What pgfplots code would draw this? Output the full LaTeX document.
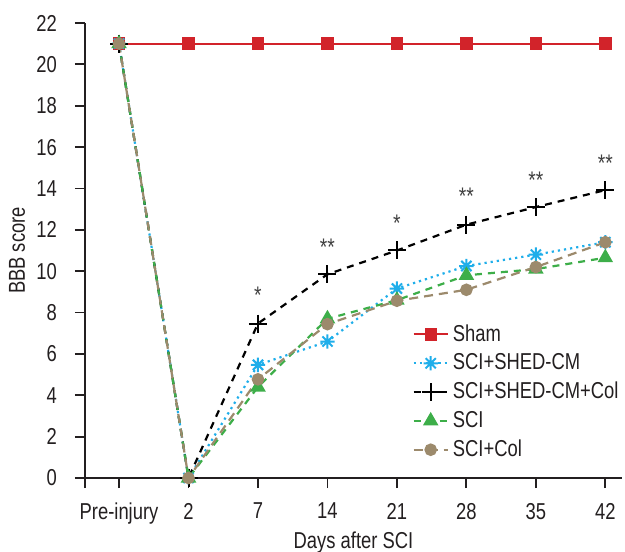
\documentclass[border=0pt]{standalone}
\usepackage{pgfplots}
\pgfplotsset{compat=1.18}
\usepackage{fontspec}
\setmainfont{Liberation Sans}[FakeStretch=0.8]
\definecolor{shamred}{HTML}{D2232A}
\definecolor{shedcyan}{HTML}{1FAEEA}
\definecolor{scigreen}{HTML}{3DAE49}
\definecolor{coltan}{HTML}{9C8A6C}
\definecolor{txt}{HTML}{231F20}
\pgfdeclareplotmark{ast8}{%
  \pgfpathmoveto{\pgfqpoint{0pt}{\pgfplotmarksize}}\pgfpathlineto{\pgfqpoint{0pt}{-\pgfplotmarksize}}%
  \pgfpathmoveto{\pgfqpoint{\pgfplotmarksize}{0pt}}\pgfpathlineto{\pgfqpoint{-\pgfplotmarksize}{0pt}}%
  \pgfpathmoveto{\pgfqpoint{0.707\pgfplotmarksize}{0.707\pgfplotmarksize}}\pgfpathlineto{\pgfqpoint{-0.707\pgfplotmarksize}{-0.707\pgfplotmarksize}}%
  \pgfpathmoveto{\pgfqpoint{-0.707\pgfplotmarksize}{0.707\pgfplotmarksize}}\pgfpathlineto{\pgfqpoint{0.707\pgfplotmarksize}{-0.707\pgfplotmarksize}}%
  \pgfusepathqstroke}
\begin{document}
\fontsize{11.5}{13.5}\selectfont
\begin{tikzpicture}
\begin{axis}[
  scale only axis,
  width=268.5pt, height=227.5pt,
  xmin=-0.49, xmax=7.24,
  ymin=0, ymax=22,
  axis lines=left,
  axis line style={-, line width=0.9pt, color=txt},
  xtick={-0.49,0,1,2,3,4,5,6,7},
  xticklabels={,Pre-injury,2,7,14,21,28,35,42},
  ytick={0,2,...,22},
  tick align=outside,
  major tick length=5pt,
  tick style={line width=0.9pt, color=txt},
  /pgf/number format/assume math mode=true,
  ticklabel style={font=\fontsize{11.5}{13.5}\selectfont, color=txt},
  xticklabel style={yshift=-3.5pt},
  yticklabel style={xshift=-5pt},
  xlabel={Days after SCI},
  ylabel={BBB score},
  label style={font=\fontsize{11.5}{13.5}\selectfont, color=txt},
  xlabel style={at={(axis description cs:0.5,0)}, anchor=base, yshift=-35pt},
  ylabel style={at={(axis description cs:-0.1266,0.5)}, anchor=center, rotate=0},
  clip=false,
  legend cell align=left,
  legend style={draw=none, fill=none, at={(0.598,0.356)}, anchor=north west,
    font=\fontsize{11.5}{13.5}\selectfont, text=txt, row sep=0.5pt,
    /tikz/every even column/.append style={column sep=1.5pt}},
]
\addplot[shamred, line width=1pt, mark=square*, mark size=2.6pt, mark options={solid}]
  coordinates {(0,21)(1,21)(2,21)(3,21)(4,21)(5,21)(6,21)(7,21)};
\addlegendentry{Sham}
\addplot[shedcyan, line width=1.1pt, dotted, mark=ast8, mark size=3.6pt, mark options={solid, line width=1pt}]
  coordinates {(0,21)(1,0)(2,5.47)(3,6.6)(4,9.16)(5,10.25)(6,10.8)(7,11.4)};
\addlegendentry{SCI+SHED-CM}
\addplot[black, line width=1.1pt, dash pattern=on 3.5pt off 3pt, mark=+, mark size=4.5pt, mark options={solid, line width=1pt}]
  coordinates {(0,21)(1,0)(2,7.47)(3,9.85)(4,11.0)(5,12.25)(6,13.1)(7,13.92)};
\addlegendentry{SCI+SHED-CM+Col}
\addplot[scigreen, line width=1.1pt, dash pattern=on 3.5pt off 3pt, mark=triangle*, mark size=3.4pt, mark options={solid}]
  coordinates {(0,21)(1,0)(2,4.4)(3,7.7)(4,8.6)(5,9.8)(6,10.1)(7,10.65)};
\addlegendentry{SCI}
\addplot[coltan, line width=1.1pt, dash pattern=on 4.5pt off 3pt, mark=*, mark size=2.6pt, mark options={solid}]
  coordinates {(0,21)(1,0)(2,4.77)(3,7.44)(4,8.57)(5,9.1)(6,10.2)(7,11.4)};
\addlegendentry{SCI+Col}
\addplot[draw=none, mark=none, nodes near coords, point meta=explicit symbolic,
  every node near coord/.append style={anchor=center, color=black!75, font=\fontsize{12}{14}\selectfont}]
  coordinates {(2,8.85)[*] (3,11.15)[**] (4,12.3)[*] (5,13.6)[**] (6,14.4)[**] (7,15.2)[**]};
\end{axis}
\pgfresetboundingbox
\path[use as bounding box] (-42.5pt,-36.5pt) rectangle (270pt,239pt);
\end{tikzpicture}
\end{document}
